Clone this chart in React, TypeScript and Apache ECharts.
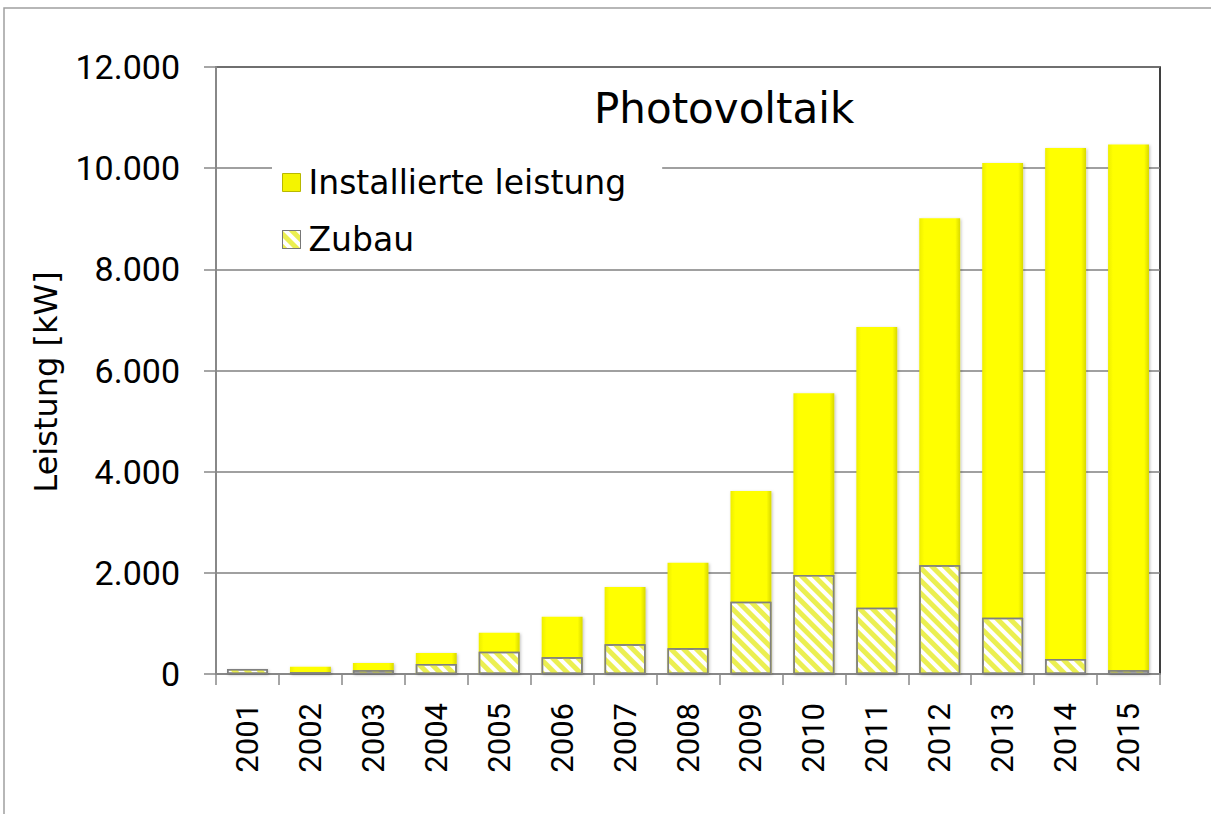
import React, { useEffect, useRef } from "react";
import * as echarts from "echarts";

const years = ["2001", "2002", "2003", "2004", "2005", "2006", "2007", "2008", "2009", "2010", "2011", "2012", "2013", "2014", "2015"];
const installed = [100, 145, 215, 415, 815, 1130, 1720, 2200, 3620, 5550, 6860, 9010, 10100, 10400, 10470];
const zubau = [100, 35, 75, 200, 440, 330, 590, 510, 1430, 1955, 1310, 2150, 1110, 295, 75];
const yTicks = { min: 0, max: 12000, interval: 2000 };
const yAxisName = "Leistung [kW]";

const NUM_FONT = "Roboto";
const TXT_FONT = "DejaVu Sans";

function fmt(v: number) {
  return String(v).replace(/\B(?=(\d{3})+(?!\d))/g, ".");
}

const hatch = {
  symbol: "rect",
  symbolSize: 1,
  dashArrayX: [1, 0],
  dashArrayY: [5, 4],
  rotation: Math.PI / 4,
  color: "rgba(232,236,50,0.85)",
};

export default function App() {
  const ref = useRef<HTMLDivElement>(null);
  useEffect(() => {
    if (!ref.current) return;
    const chart = echarts.init(ref.current, undefined, { renderer: "svg" });
    const yellow = new echarts.graphic.LinearGradient(0, 0, 1, 0, [
      { offset: 0, color: "#eeee00" },
      { offset: 0.12, color: "#ffff00" },
      { offset: 0.88, color: "#ffff00" },
      { offset: 1, color: "#d8d800" },
    ]);
    chart.setOption({
      animation: false,
      textStyle: { fontFamily: NUM_FONT },
      graphic: [
        {
          type: "rect",
          shape: { x: 4, y: 8, width: 1400, height: 1000 },
          style: { fill: "none", stroke: "#a0a0a0", lineWidth: 1.5 },
          silent: true,
        },
        {
          type: "text",
          x: 46,
          y: 382,
          rotation: Math.PI / 2,
          style: {
            text: yAxisName,
            fontFamily: TXT_FONT,
            fontSize: 32,
            fill: "#000",
            align: "center",
            verticalAlign: "middle",
          },
          silent: true,
        },
      ],
      title: {
        text: "Photovoltaik",
        left: 589,
        top: 82,
        textStyle: { fontFamily: TXT_FONT, fontSize: 42, fontWeight: "normal", color: "#000" },
      },
      legend: {
        orient: "vertical",
        left: 272,
        top: 158,
        padding: [8, 36, 8, 10],
        backgroundColor: "#ffffff",
        itemGap: 24,
        itemWidth: 18,
        itemHeight: 18,
        icon: "rect",
        textStyle: { fontFamily: TXT_FONT, fontSize: 33, color: "#000", lineHeight: 33, padding: [0, 0, 0, 3] },
        data: [
          { name: "Installierte leistung", itemStyle: { color: "#f4f400", borderColor: "#b8b800", borderWidth: 1 } },
          { name: "Zubau", itemStyle: { color: "#ffffff", borderColor: "#777", borderWidth: 1, decal: hatch } },
        ],
      },
      grid: {
        left: 216,
        right: 51,
        top: 67,
        bottom: 140,
        show: true,
        borderColor: "#000",
        borderWidth: 1.5,
        backgroundColor: "transparent",
      },
      xAxis: {
        type: "category",
        data: years,
        boundaryGap: true,
        axisLine: { show: true, lineStyle: { color: "#888", width: 2 } },
        axisTick: { show: true, length: 11, alignWithLabel: false, lineStyle: { color: "#888", width: 1.5 } },
        axisLabel: { rotate: 90, fontSize: 31, color: "#000", margin: 29, fontFamily: NUM_FONT },
      },
      yAxis: {
        type: "value",
        min: yTicks.min,
        max: yTicks.max,
        interval: yTicks.interval,
        axisLine: { show: true, lineStyle: { color: "#888", width: 2 } },
        axisTick: { show: true, length: 12, lineStyle: { color: "#888", width: 1.5 } },
        axisLabel: { fontSize: 34, color: "#000", margin: 36, formatter: (v: number) => fmt(v), fontFamily: NUM_FONT },
        splitLine: { show: true, lineStyle: { color: "#808080", width: 1.5 } },
      },
      series: [
        {
          name: "Installierte leistung",
          type: "bar",
          data: installed,
          barWidth: "65%",
          itemStyle: { color: yellow, shadowColor: "rgba(0,0,0,0.25)", shadowBlur: 3, shadowOffsetX: 1, shadowOffsetY: 1 },
          z: 2,
        },
        {
          name: "Zubau",
          type: "bar",
          data: zubau,
          barWidth: "65%",
          barGap: "-100%",
          itemStyle: { color: "#ffffff", borderColor: "#808080", borderWidth: 1.5, decal: hatch },
          z: 3,
        },
      ],
    });
    return () => chart.dispose();
  }, []);
  return <div ref={ref} style={{ position: "absolute", left: 0, top: 0, width: 1211, height: 814 }} />;
}
